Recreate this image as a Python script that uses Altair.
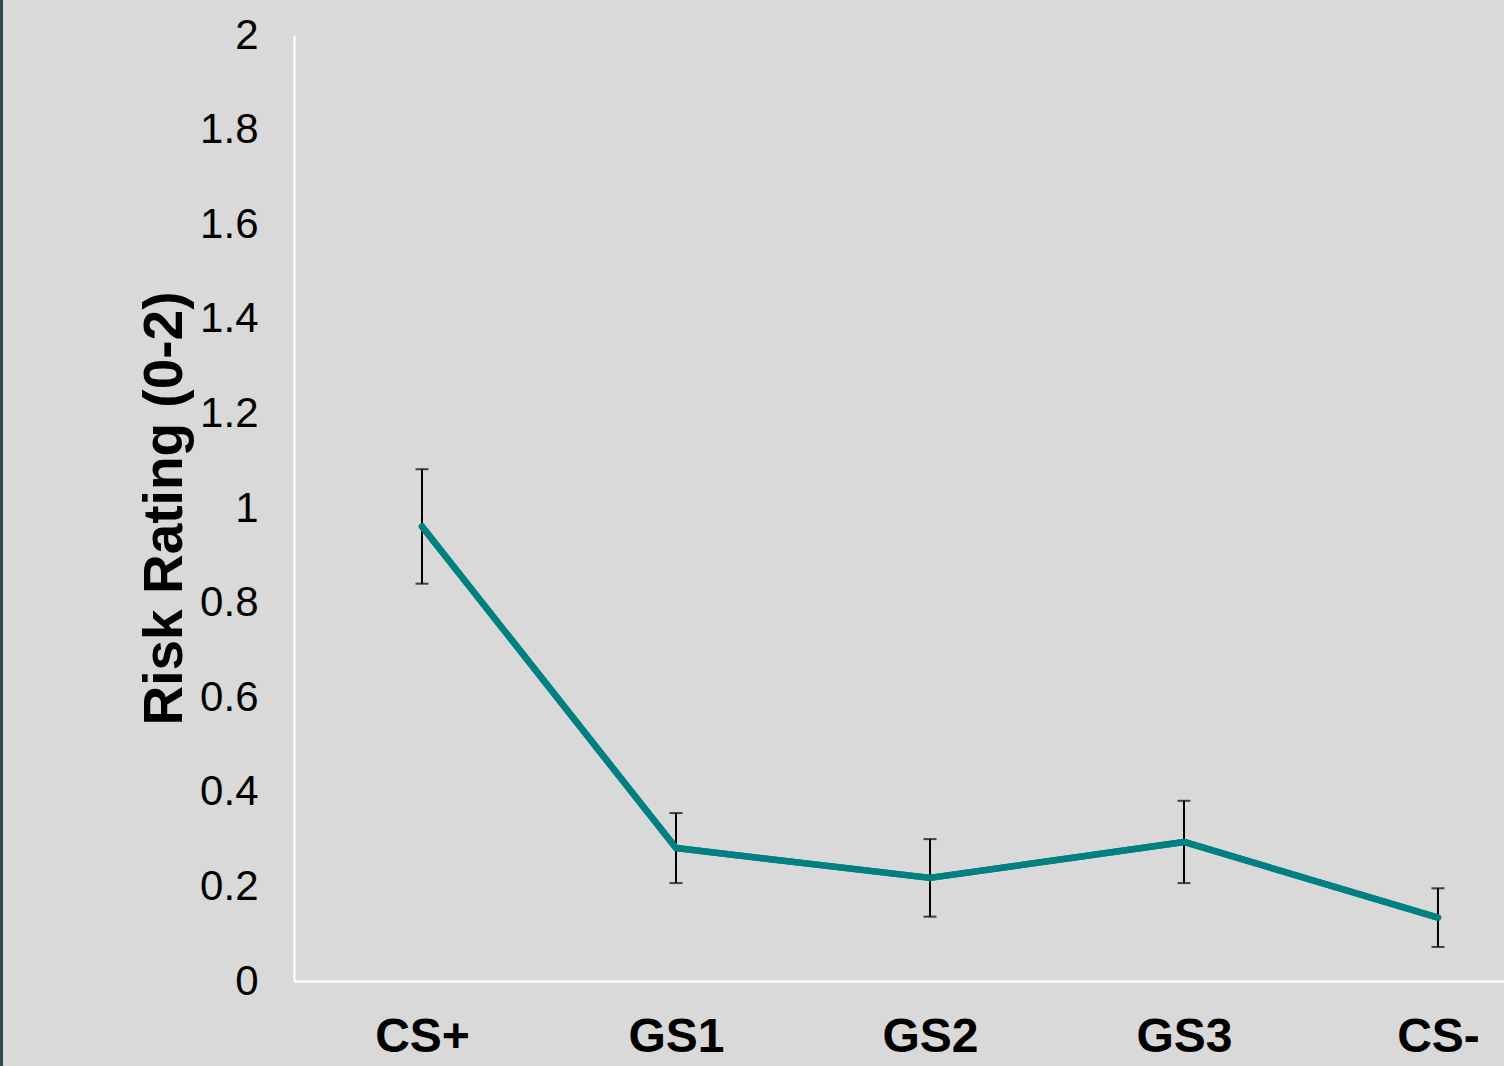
import json
import altair as alt
import pandas as pd

categories = ["CS+", "GS1", "GS2", "GS3", "CS-"]
means = [0.961, 0.281, 0.218, 0.294, 0.134]
errors = [0.121, 0.074, 0.082, 0.087, 0.062]
y_ticks = [0, 0.2, 0.4, 0.6, 0.8, 1, 1.2, 1.4, 1.6, 1.8, 2]

df = pd.DataFrame({
    "idx": list(range(len(categories))),
    "cat": categories,
    "mean": means,
    "lo": [m - e for m, e in zip(means, errors)],
    "hi": [m + e for m, e in zip(means, errors)],
})

FONT = "Liberation Sans"
label_expr = json.dumps(categories) + "[datum.value]"

x_enc = alt.X(
    "idx:Q",
    scale=alt.Scale(domain=[-0.504, 4.26], nice=False, zero=False),
    axis=alt.Axis(
        values=list(range(len(categories))),
        labelExpr=label_expr,
        title=None,
        grid=False,
        ticks=False,
        domain=True,
        domainColor="white",
        domainWidth=2,
        labelFont=FONT,
        labelFontSize=48,
        labelFontWeight="bold",
        labelColor="black",
        labelPadding=32,
        labelFlush=False,
        labelOverlap=False,
    ),
)
y_enc = alt.Y(
    "mean:Q",
    scale=alt.Scale(domain=[0, 2], nice=False),
    axis=alt.Axis(
        values=y_ticks,
        format="~g",
        title="Risk Rating (0-2)",
        titleFont=FONT,
        titleFontSize=55,
        titleFontWeight="bold",
        titleColor="black",
        titleX=-113,
        titleY=473,
        titleAngle=270,
        titleBaseline="alphabetic",
        titleAlign="center",
        grid=False,
        ticks=False,
        domain=True,
        domainColor="white",
        domainWidth=2,
        labelFont=FONT,
        labelFontSize=42,
        labelColor="black",
        labelPadding=36,
        labelFlush=False,
        labelOverlap=False,
        labelBound=False,
    ),
)

base = alt.Chart(df)

bars = base.mark_rule(color="black", strokeWidth=2).encode(
    x=x_enc, y=alt.Y("lo:Q"), y2="hi:Q"
)
cap_hi = base.mark_tick(color="black", orient="horizontal", size=13, thickness=2).encode(
    x="idx:Q", y="hi:Q"
)
cap_lo = base.mark_tick(color="black", orient="horizontal", size=13, thickness=2).encode(
    x="idx:Q", y="lo:Q"
)
line = base.mark_line(color="#008080", strokeWidth=6.5, strokeCap="round", strokeJoin="round").encode(
    x="idx:Q", y=y_enc
)
border = alt.Chart(pd.DataFrame({"a": [0]})).mark_rule(
    color="#34474d", strokeWidth=3, clip=False
).encode(x=alt.value(-292.5), y=alt.value(-40), y2=alt.value(1040))

chart = alt.layer(line, bars, cap_hi, cap_lo, line, border).properties(
    width=1210,
    height=946,
    background="#d9d9d9",
    padding={"left": 294, "top": 35, "right": 0, "bottom": 85},
    autosize=alt.AutoSizeParams(type="none"),
).configure_view(stroke=None)

chart.save("out.html", embed_options={"renderer": "svg", "actions": False})
